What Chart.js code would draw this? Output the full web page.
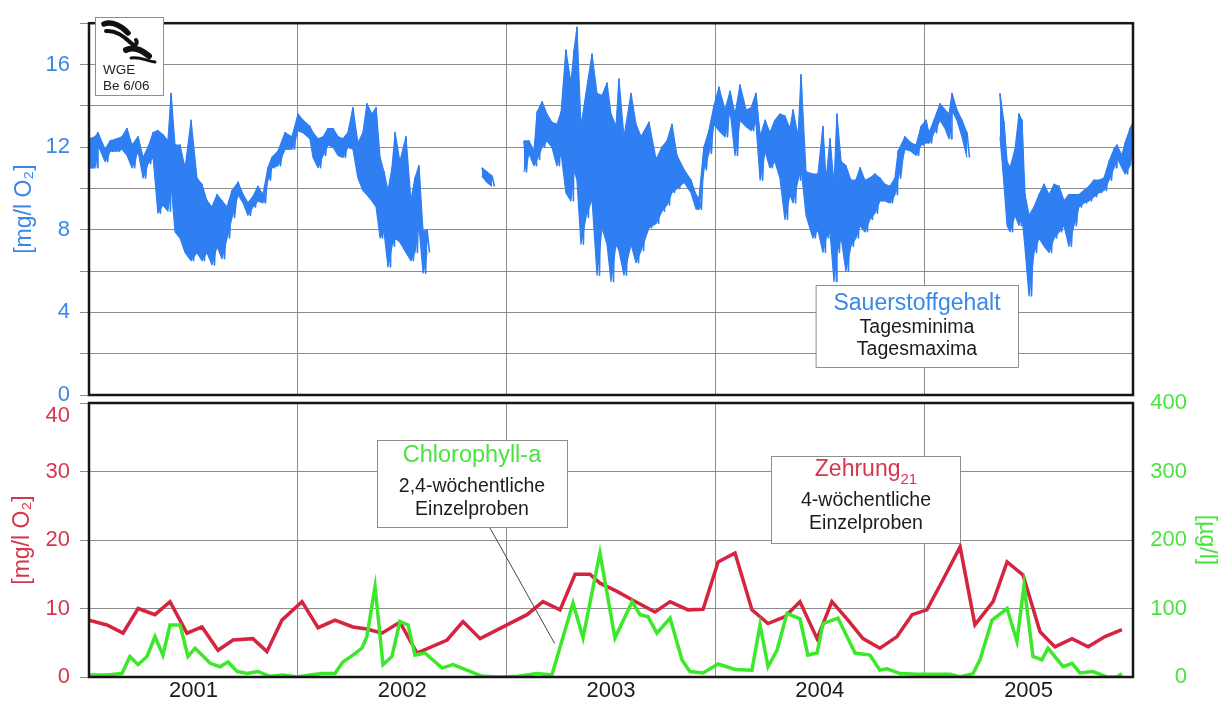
<!DOCTYPE html>
<html lang="de">
<head>
<meta charset="utf-8">
<title>Sauerstoffgehalt, Zehrung und Chlorophyll-a 2001–2005</title>
<script src="https://cdn.jsdelivr.net/npm/chart.js@4.4.1/dist/chart.umd.min.js"></script>
<style>
  html, body { margin: 0; padding: 0; background: #fff; }
  #wrap { position: relative; width: 1228px; height: 707px; overflow: hidden; background: #fff; }
  canvas { position: absolute; left: 0; top: 0; }
</style>
</head>
<body>
<div id="wrap">
  <canvas id="oben" width="1228" height="707"></canvas>
  <canvas id="unten" width="1228" height="707"></canvas>
</div>
<script>
// ---- Sauerstoffgehalt: Tagesmaxima / Tagesminima (Zeit in Dezimaljahren, null = Messlücke)
const o2Zeit = [
  2001.000, 2001.029, 2001.043, 2001.077, 2001.101, 2001.134, 2001.158, 2001.182, 2001.206, 2001.235,
  2001.259, 2001.283, 2001.307, 2001.330, 2001.354, 2001.378, 2001.393, 2001.412, 2001.436, 2001.460,
  2001.489, 2001.517, 2001.541, 2001.565, 2001.589, 2001.613, 2001.637, 2001.661, 2001.685, 2001.714,
  2001.738, 2001.761, 2001.785, 2001.809, 2001.833, 2001.857, 2001.876, 2001.905, 2001.939, 2001.972,
  2002.001, 2002.025, 2002.058, 2002.073, 2002.097, 2002.121, 2002.145, 2002.169, 2002.193, 2002.216,
  2002.240, 2002.264, 2002.288, 2002.312, 2002.331, 2002.355, 2002.375, 2002.394, 2002.413, 2002.432,
  2002.451, 2002.466, 2002.489, 2002.518, 2002.542, 2002.561, 2002.580, 2002.600, 2002.619, 2002.750,
  2002.882, 2002.906, 2002.930, 2003.000,
  2003.083, 2003.107, 2003.131, 2003.146, 2003.170, 2003.193, 2003.217, 2003.241, 2003.261, 2003.284,
  2003.308, 2003.323, 2003.337, 2003.356, 2003.380, 2003.409, 2003.433, 2003.457, 2003.481, 2003.500,
  2003.524, 2003.538, 2003.562, 2003.596, 2003.620, 2003.644, 2003.682, 2003.716, 2003.744, 2003.768,
  2003.792, 2003.816, 2003.850, 2003.883, 2003.907, 2003.921, 2003.945, 2003.969, 2003.993,
  2004.017, 2004.046, 2004.070, 2004.094, 2004.118, 2004.147, 2004.171, 2004.194, 2004.214, 2004.238,
  2004.261, 2004.285, 2004.309, 2004.333, 2004.357, 2004.372, 2004.396, 2004.410, 2004.434, 2004.467,
  2004.491, 2004.515, 2004.530, 2004.549, 2004.568, 2004.582, 2004.602, 2004.625, 2004.649, 2004.673,
  2004.693, 2004.716, 2004.740, 2004.764, 2004.788, 2004.812, 2004.836, 2004.860, 2004.875, 2004.908,
  2004.937, 2004.961, 2004.985,
  2005.009, 2005.023, 2005.047, 2005.076, 2005.100, 2005.119, 2005.133, 2005.157, 2005.181, 2005.205,
  2005.280, 2005.363, 2005.382, 2005.397, 2005.411, 2005.435, 2005.454, 2005.468, 2005.483, 2005.502,
  2005.526, 2005.550, 2005.574, 2005.598, 2005.622, 2005.646, 2005.670, 2005.693, 2005.717, 2005.741,
  2005.765, 2005.789, 2005.813, 2005.837, 2005.861, 2005.885, 2005.909, 2005.923, 2005.947, 2005.962,
  2005.986, 2006.000
];
const o2Max = [
  12.4, 12.5, 12.7, 11.9, 12.3, 12.4, 12.5, 12.9, 12.1, 12.5,
  11.5, 12.0, 12.7, 12.8, 12.6, 12.3, 14.6, 12.1, 12.1, 11.0,
  13.3, 10.5, 10.2, 9.4, 9.1, 9.7, 9.4, 9.1, 9.9, 10.3,
  9.7, 9.3, 9.6, 10.1, 9.7, 11.0, 11.5, 11.8, 12.7, 12.5,
  13.6, 13.3, 13.0, 12.7, 12.4, 12.5, 12.9, 12.9, 12.5, 12.4,
  12.7, 13.9, 12.2, 12.7, 14.1, 13.6, 13.9, 11.5, 10.8, 9.9,
  11.0, 12.7, 11.3, 12.5, 9.4, 10.5, 11.1, 7.9, 8.0, null,
  11.0, 10.8, 10.6, null,
  12.3, 12.3, 11.8, 13.7, 14.2, 13.6, 13.2, 13.1, 13.7, 16.7,
  15.1, 16.7, 17.8, 13.0, 14.6, 16.5, 14.6, 14.5, 15.1, 13.6,
  13.0, 15.3, 12.5, 14.6, 13.1, 12.5, 13.2, 11.4, 12.0, 12.3,
  13.1, 11.6, 10.9, 10.4, 9.7, 9.5, 12.0, 12.8, 14.0,
  14.9, 13.8, 14.7, 13.6, 15.0, 13.8, 13.9, 14.6, 12.5, 13.3,
  12.7, 13.3, 13.6, 13.5, 12.9, 13.8, 12.5, 15.5, 10.8, 10.7,
  10.7, 13.0, 10.4, 12.4, 10.2, 13.6, 11.3, 11.1, 10.4, 10.4,
  11.0, 10.4, 10.5, 10.7, 10.5, 10.2, 10.1, 10.5, 11.8, 12.5,
  12.2, 12.1, 13.0,
  13.3, 12.7, 13.3, 14.1, 13.8, 13.6, 14.6, 13.8, 13.3, 12.7,
  null, 14.6, 13.2, 11.3, 11.0, 11.9, 13.6, 13.3, 9.7, 8.7,
  9.1, 9.7, 10.2, 9.7, 10.2, 10.1, 9.4, 9.7, 9.7, 9.7,
  9.9, 10.1, 10.4, 10.4, 10.5, 11.3, 11.9, 12.1, 11.6, 12.2,
  12.9, 13.2
];
const o2Min = [
  11.0, 11.0, 12.1, 11.3, 11.8, 11.8, 11.9, 11.6, 11.0, 11.8,
  10.5, 11.2, 11.5, 8.8, 9.2, 8.9, 10.2, 7.9, 7.6, 6.9,
  6.5, 6.9, 6.5, 6.9, 6.3, 7.2, 6.6, 7.6, 8.6, 9.7,
  9.3, 8.7, 9.1, 9.4, 9.3, 10.4, 11.0, 11.1, 11.9, 11.9,
  12.8, 12.7, 12.4, 11.5, 11.0, 11.6, 12.1, 12.0, 11.6, 11.5,
  12.0, 11.9, 10.5, 9.9, 9.7, 9.4, 9.1, 7.6, 7.9, 6.2,
  7.2, 7.6, 7.4, 6.9, 6.5, 6.9, 8.2, 5.9, 6.9, null,
  10.6, 10.3, 10.1, null,
  10.8, 11.7, 11.1, 11.4, 12.0, 12.3, 12.0, 11.1, 11.7, 9.8,
  9.4, 10.9, 10.4, 7.3, 8.6, 9.5, 5.8, 8.1, 7.3, 5.5,
  7.3, 7.0, 5.8, 7.3, 6.4, 7.0, 8.1, 8.3, 8.9, 9.2,
  9.8, 10.0, 10.3, 9.8, 9.0, 9.0, 10.9, 11.7, 13.1,
  12.8, 12.5, 13.8, 11.6, 13.3, 13.0, 12.8, 13.2, 10.4, 11.8,
  11.0, 11.3, 10.5, 8.5, 9.7, 9.3, 10.4, 11.0, 8.7, 7.6,
  8.0, 6.9, 7.6, 7.9, 5.5, 6.9, 7.6, 6.0, 7.2, 7.6,
  8.2, 7.9, 8.5, 8.8, 9.4, 9.4, 9.3, 9.7, 10.5, 11.9,
  11.8, 11.6, 12.1,
  12.2, 12.2, 12.7, 13.3, 12.9, 12.4, 13.8, 13.3, 12.5, 11.5,
  null, 12.5, 10.2, 8.2, 7.9, 8.7, 8.2, 8.7, 7.1, 4.8,
  6.9, 7.6, 7.2, 6.9, 7.6, 7.9, 8.2, 7.2, 8.2, 9.1,
  9.3, 9.4, 9.6, 9.8, 9.9, 10.4, 11.0, 11.5, 11.0, 10.7,
  11.1, 12.2
];

// ---- Zehrung (21 Tage), 4-wöchentliche Einzelproben [mg/l O2]
const zehrZeit = [
  2001.000, 2001.086, 2001.163, 2001.235, 2001.316, 2001.388, 2001.469, 2001.541, 2001.618, 2001.690,
  2001.785, 2001.852, 2001.924, 2002.020, 2002.097, 2002.178, 2002.264, 2002.331, 2002.403, 2002.489,
  2002.571, 2002.715, 2002.791, 2002.873, 2003.098, 2003.174, 2003.256, 2003.328, 2003.399, 2003.447,
  2003.529, 2003.605, 2003.711, 2003.783, 2003.869, 2003.941, 2004.013, 2004.094, 2004.175, 2004.252,
  2004.333, 2004.405, 2004.487, 2004.558, 2004.635, 2004.707, 2004.788, 2004.870, 2004.942, 2005.013,
  2005.090, 2005.172, 2005.243, 2005.330, 2005.397, 2005.473, 2005.555, 2005.626, 2005.708, 2005.785,
  2005.866, 2005.947
];
const zehrWerte = [
  8.3, 7.6, 6.4, 10.0, 9.1, 11.0, 6.4, 7.3, 3.9, 5.4,
  5.6, 3.7, 8.3, 11.0, 7.2, 8.3, 7.3, 7.0, 6.4, 8.0,
  3.5, 5.4, 8.1, 5.6, 9.1, 11.0, 9.8, 15.0, 15.0, 13.7,
  12.5, 11.2, 9.5, 11.0, 9.8, 9.9, 16.8, 18.1, 9.8, 7.8,
  8.8, 11.0, 5.6, 11.0, 8.3, 5.6, 4.2, 5.9, 9.1, 9.8,
  14.2, 19.0, 7.6, 11.0, 16.8, 14.9, 6.6, 4.4, 5.6, 4.4,
  5.9, 6.9
];

// ---- Chlorophyll-a, 2- bis 4-wöchentliche Einzelproben [µg/l]
const chlZeit = [
  2001.000, 2001.086, 2001.158, 2001.196, 2001.235, 2001.278, 2001.316, 2001.354, 2001.388, 2001.436,
  2001.474, 2001.508, 2001.541, 2001.580, 2001.627, 2001.666, 2001.709, 2001.757, 2001.809, 2001.867,
  2001.929, 2001.996, 2002.058, 2002.116, 2002.178, 2002.216, 2002.264, 2002.307, 2002.331, 2002.370,
  2002.408, 2002.451, 2002.489, 2002.528, 2002.561, 2002.609, 2002.691, 2002.743, 2002.810, 2002.882,
  2002.968, 2003.055, 2003.146, 2003.217, 2003.318, 2003.366, 2003.447, 2003.519, 2003.601, 2003.639,
  2003.677, 2003.720, 2003.783, 2003.840, 2003.878, 2003.941, 2004.013, 2004.094, 2004.175, 2004.214,
  2004.252, 2004.295, 2004.343, 2004.405, 2004.443, 2004.487, 2004.515, 2004.587, 2004.669, 2004.740,
  2004.788, 2004.822, 2004.884, 2004.966, 2005.042, 2005.124, 2005.172, 2005.234, 2005.267, 2005.325,
  2005.397, 2005.444, 2005.478, 2005.521, 2005.564, 2005.593, 2005.665, 2005.708, 2005.746, 2005.808,
  2005.875, 2005.923, 2005.947
];
const chlWerte = [
  3, 3, 5, 30, 18, 30, 59, 32, 76, 76,
  30, 42, 32, 20, 15, 22, 8, 5, 8, 1,
  3, 0, 3, 5, 5, 22, 32, 42, 59, 132,
  18, 30, 81, 76, 32, 35, 13, 18, 10, 1,
  0, 1, 5, 3, 108, 57, 181, 57, 110, 91,
  88, 64, 86, 25, 8, 6, 19, 11, 10, 76,
  15, 39, 93, 85, 32, 35, 78, 86, 35, 32,
  10, 12, 5, 4, 4, 4, 0, 5, 25, 83,
  100, 52, 134, 30, 25, 42, 15, 20, 6, 8,
  0, 0, 5
];

// ---- Achsen
const jahre = [2001, 2002, 2003, 2004, 2005];
const jahresTicks = [2001, 2001.5, 2002, 2002.5, 2003, 2003.5, 2004, 2004.5, 2005, 2005.5, 2006];
const o2Ticks = [0, 2, 4, 6, 8, 10, 12, 14, 16, 18];
const o2Beschriftet = [0, 4, 8, 12, 16];
const zehrTicks = [0, 10, 20, 30, 40];
const chlTicks = [0, 100, 200, 300, 400];

const SCHRIFT = '"Liberation Sans", Arial, Helvetica, sans-serif';
const GITTER = '#8c8c8c';
const BLAU = '#2f7ff2';
const BLAU_TEXT = '#3a88e8';
const ROT = '#d4243f';
const ROT_TEXT = '#d8364f';
const GRUEN = '#3be82a';
const GRUEN_TEXT = '#4ae33f';
const SCHWARZ_TEXT = '#1c1c1c';

Chart.defaults.font.family = SCHRIFT;

const punkte = (xs, ys) => xs.map((x, i) => ({ x: x, y: ys[i] }));

// Tagesmaximum und Tagesminimum abwechselnd als Linienzug (zeichnet die Spitzen)
const HALBSCHRITT = 0.012;
const o2Verlauf = [];
o2Zeit.forEach((t, i) => {
  o2Verlauf.push({ x: t, y: o2Max[i] });
  o2Verlauf.push({ x: t + HALBSCHRITT, y: o2Min[i] });
});

// Zeitachse: Gitterlinien an den Jahreswechseln, Jahreszahl in der Jahresmitte
function zeitAchse(mitBeschriftung) {
  return {
    type: 'linear', min: 2001, max: 2006,
    afterBuildTicks: s => { s.ticks = jahresTicks.map(v => ({ value: v })); },
    grid: {
      color: c => (c.tick && Number.isInteger(c.tick.value)) ? GITTER : 'rgba(0,0,0,0)',
      lineWidth: 1, drawTicks: false
    },
    border: { display: false },
    ticks: {
      display: mitBeschriftung, autoSkip: false, maxRotation: 0, minRotation: 0, padding: 1,
      color: SCHWARZ_TEXT, font: { family: SCHRIFT, size: 22 },
      callback: v => Number.isInteger(v) ? '' : String(jahre.find(j => j === Math.floor(v)))
    },
    afterFit: s => { s.height = mitBeschriftung ? 30 : 0; }
  };
}

// Rahmen um die Zeichenfläche
const rahmen = {
  id: 'rahmen',
  afterDatasetsDraw(chart) {
    const { ctx, chartArea: a } = chart;
    ctx.save();
    ctx.strokeStyle = '#161616';
    ctx.lineWidth = 2.5;
    ctx.strokeRect(a.left, a.top, a.right - a.left, a.bottom - a.top);
    ctx.restore();
  }
};

function kasten(ctx, l, t, r, b) {
  ctx.fillStyle = '#ffffff';
  ctx.fillRect(l, t, r - l, b - t);
  ctx.strokeStyle = '#8e8e8e';
  ctx.lineWidth = 1;
  ctx.strokeRect(l + 0.5, t + 0.5, r - l - 1, b - t - 1);
}

function zeile(ctx, text, x, y, size, farbe) {
  ctx.font = size + 'px ' + SCHRIFT;
  ctx.fillStyle = farbe;
  ctx.textAlign = 'center';
  ctx.textBaseline = 'middle';
  ctx.fillText(text, x, y);
}

// Logo und Legende im oberen Diagramm
const obenNotizen = {
  id: 'obenNotizen',
  afterDraw(chart) {
    const ctx = chart.ctx;
    ctx.save();
    kasten(ctx, 95, 17, 164, 96);
    ctx.strokeStyle = '#111';
    ctx.lineCap = 'round';
    ctx.lineJoin = 'round';
    ctx.lineWidth = 5.5;
    ctx.beginPath(); ctx.moveTo(104, 24); ctx.bezierCurveTo(112, 21, 122, 26, 128, 33); ctx.stroke();
    ctx.lineWidth = 4;
    ctx.beginPath(); ctx.moveTo(106, 31); ctx.bezierCurveTo(115, 30, 124, 36, 131, 43);
    ctx.bezierCurveTo(135, 47, 138, 44, 136, 40); ctx.stroke();
    ctx.lineWidth = 6;
    ctx.beginPath(); ctx.moveTo(126, 50); ctx.bezierCurveTo(134, 46, 142, 50, 149, 56); ctx.stroke();
    ctx.lineWidth = 3;
    ctx.beginPath(); ctx.moveTo(131, 58); ctx.bezierCurveTo(139, 56, 147, 61, 155, 62); ctx.stroke();
    ctx.font = '13.5px ' + SCHRIFT;
    ctx.fillStyle = '#222';
    ctx.textAlign = 'left';
    ctx.textBaseline = 'middle';
    ctx.fillText('WGE', 103, 70);
    ctx.fillText('Be 6/06', 103, 86);

    kasten(ctx, 816, 285, 1019, 368);
    zeile(ctx, 'Sauerstoffgehalt', 917, 304, 23, BLAU_TEXT);
    zeile(ctx, 'Tagesminima', 917, 328, 19.5, SCHWARZ_TEXT);
    zeile(ctx, 'Tagesmaxima', 917, 350, 19.5, SCHWARZ_TEXT);
    ctx.restore();
  }
};

// Beschriftungskästen und rechte Achsenbeschriftung im unteren Diagramm
const untenNotizen = {
  id: 'untenNotizen',
  afterDraw(chart) {
    const ctx = chart.ctx;
    const xs = chart.scales.x, ys = chart.scales.y1;
    ctx.save();
    ctx.strokeStyle = '#444';
    ctx.lineWidth = 1;
    ctx.beginPath();
    ctx.moveTo(490, 528);
    ctx.lineTo(xs.getPixelForValue(2003.23), ys.getPixelForValue(49));
    ctx.stroke();

    kasten(ctx, 377, 440, 568, 528);
    zeile(ctx, 'Chlorophyll-a', 472, 456, 23.5, GRUEN_TEXT);
    zeile(ctx, '2,4-wöchentliche', 472, 487, 19.5, SCHWARZ_TEXT);
    zeile(ctx, 'Einzelproben', 472, 510, 19.5, SCHWARZ_TEXT);

    kasten(ctx, 771, 456, 961, 544);
    ctx.font = '23px ' + SCHRIFT;
    const wHaupt = ctx.measureText('Zehrung').width;
    ctx.font = '15px ' + SCHRIFT;
    const wIndex = ctx.measureText('21').width;
    const start = 866 - (wHaupt + wIndex) / 2;
    ctx.fillStyle = ROT_TEXT;
    ctx.textAlign = 'left';
    ctx.textBaseline = 'middle';
    ctx.font = '23px ' + SCHRIFT;
    ctx.fillText('Zehrung', start, 470);
    ctx.font = '15px ' + SCHRIFT;
    ctx.fillText('21', start + wHaupt, 480);
    zeile(ctx, '4-wöchentliche', 866, 501, 19.5, SCHWARZ_TEXT);
    zeile(ctx, 'Einzelproben', 866, 524, 19.5, SCHWARZ_TEXT);

    // Einheit der rechten Achse, von oben nach unten gelesen
    const a = chart.chartArea;
    ctx.translate(1206, (a.top + a.bottom) / 2);
    ctx.rotate(Math.PI / 2);
    zeile(ctx, '[µg/l]', 0, 0, 23, GRUEN_TEXT);
    ctx.restore();
  }
};

// ---- Oberes Diagramm: Sauerstoffgehalt
new Chart(document.getElementById('oben'), {
  type: 'line',
  data: {
    datasets: [
      {
        label: 'Tagesmaxima / Tagesminima (Wechsel)', data: o2Verlauf,
        borderColor: BLAU, borderWidth: 1.6, borderJoinStyle: 'round',
        pointRadius: 0, tension: 0, spanGaps: false, fill: false
      },
      {
        label: 'Tagesmaxima', data: punkte(o2Zeit, o2Max),
        borderColor: BLAU, borderWidth: 1.2, borderJoinStyle: 'round',
        pointRadius: 0, tension: 0, spanGaps: false, fill: false
      },
      {
        label: 'Tagesminima', data: punkte(o2Zeit, o2Min),
        borderColor: BLAU, borderWidth: 1.2, borderJoinStyle: 'round',
        pointRadius: 0, tension: 0, spanGaps: false,
        fill: '-1', backgroundColor: BLAU
      }
    ]
  },
  options: {
    responsive: false, animation: false, devicePixelRatio: 1,
    layout: { padding: { top: 10, bottom: 312, left: 0, right: 95 }, autoPadding: false },
    plugins: { legend: { display: false }, tooltip: { enabled: false } },
    scales: {
      x: zeitAchse(false),
      y: {
        min: 0, max: 18,
        afterBuildTicks: s => { s.ticks = o2Ticks.map(v => ({ value: v })); },
        grid: { color: GITTER, lineWidth: 1, tickLength: 9 },
        border: { display: false },
        ticks: {
          padding: 10, color: BLAU_TEXT, font: { family: SCHRIFT, size: 22 },
          callback: v => o2Beschriftet.includes(v) ? String(v) : ''
        },
        title: {
          display: true, text: '[mg/l O₂]', color: BLAU_TEXT,
          font: { family: SCHRIFT, size: 23 }, padding: { top: 11, bottom: 0 }
        },
        afterFit: s => { s.width = 89; }
      }
    }
  },
  plugins: [rahmen, obenNotizen]
});

// ---- Unteres Diagramm: Zehrung und Chlorophyll-a
new Chart(document.getElementById('unten'), {
  type: 'line',
  data: {
    datasets: [
      {
        label: 'Chlorophyll-a', data: punkte(chlZeit, chlWerte), yAxisID: 'y1',
        borderColor: GRUEN, borderWidth: 3.5, pointRadius: 0, tension: 0, fill: false
      },
      {
        label: 'Zehrung21', data: punkte(zehrZeit, zehrWerte), yAxisID: 'y',
        borderColor: ROT, borderWidth: 3.5, pointRadius: 0, tension: 0, fill: false
      }
    ]
  },
  options: {
    responsive: false, animation: false, devicePixelRatio: 1,
    layout: { padding: { top: 403, bottom: 0, left: 0, right: 41 }, autoPadding: false },
    plugins: { legend: { display: false }, tooltip: { enabled: false } },
    scales: {
      x: zeitAchse(true),
      y: {
        position: 'left', min: 0, max: 40,
        afterBuildTicks: s => { s.ticks = zehrTicks.map(v => ({ value: v })); },
        grid: { color: GITTER, lineWidth: 1, tickLength: 9 },
        border: { display: false },
        ticks: {
          padding: 10, color: ROT_TEXT, font: { family: SCHRIFT, size: 22 },
          callback: v => v === 40 ? ['', '40'] : String(v)
        },
        title: {
          display: true, text: '[mg/l O₂]', color: ROT_TEXT,
          font: { family: SCHRIFT, size: 23 }, padding: { top: 9, bottom: 0 }
        },
        afterFit: s => { s.width = 89; }
      },
      y1: {
        position: 'right', min: 0, max: 400,
        afterBuildTicks: s => { s.ticks = chlTicks.map(v => ({ value: v })); },
        grid: { drawOnChartArea: false, drawTicks: false },
        border: { display: false },
        ticks: {
          padding: 14, crossAlign: 'far', color: GRUEN_TEXT, font: { family: SCHRIFT, size: 22 }
        },
        afterFit: s => { s.width = 54; }
      }
    }
  },
  plugins: [rahmen, untenNotizen]
});
</script>
</body>
</html>
